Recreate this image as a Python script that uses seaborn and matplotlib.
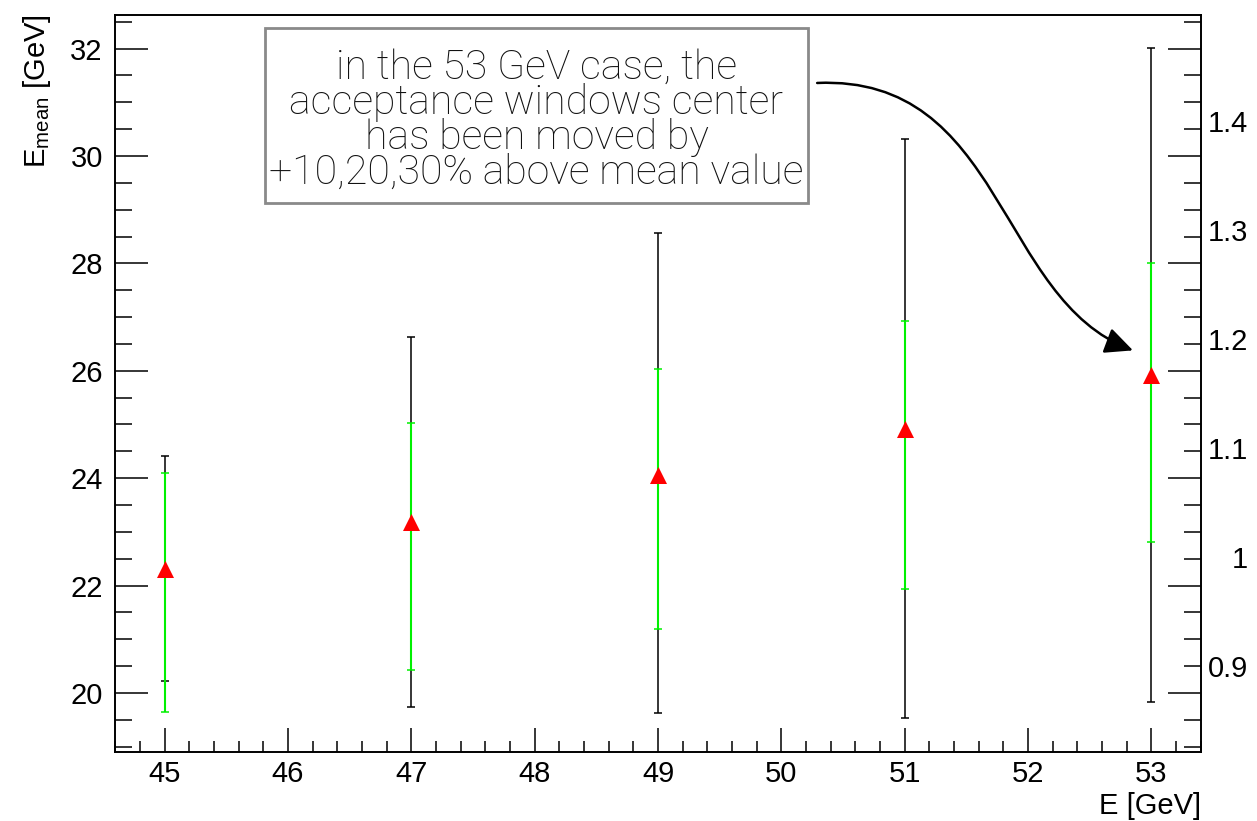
import matplotlib
matplotlib.use("Agg")
import matplotlib.pyplot as plt
import seaborn as sns
import pandas as pd
from matplotlib.patches import Rectangle, FancyArrowPatch
from matplotlib.path import Path
from matplotlib.ticker import MultipleLocator

# Beam energy points and mean reconstructed energy
energies = [45, 47, 49, 51, 53]
e_mean = [22.30, 23.19, 24.06, 24.91, 25.92]
# full spread (black) and acceptance window (green)
black_lo = [20.22, 19.73, 19.62, 19.53, 19.84]
black_hi = [24.42, 26.63, 28.57, 30.32, 32.01]
green_lo = [19.64, 20.42, 21.20, 21.94, 22.82]
green_hi = [24.10, 25.03, 26.03, 26.92, 28.00]
right_ticks = [0.9, 1.0, 1.1, 1.2, 1.3, 1.4]
right_labels = ["0.9", "1", "1.1", "1.2", "1.3", "1.4"]
note_lines = ["in the 53 GeV case, the",
              "acceptance windows center",
              "has been moved by",
              "+10,20,30% above mean value"]

df = pd.DataFrame({"E": energies, "Emean": e_mean,
                   "blo": black_lo, "bhi": black_hi,
                   "glo": green_lo, "ghi": green_hi})

sns.set_theme(style="white")
plt.rcParams["font.family"] = ["Liberation Sans", "DejaVu Sans"]
plt.rcParams["mathtext.fontset"] = "custom"
plt.rcParams["mathtext.rm"] = "Liberation Sans"
plt.rcParams["text.color"] = "black"
plt.rcParams["xtick.color"] = "black"
plt.rcParams["ytick.color"] = "black"

fig = plt.figure(figsize=(12.57, 8.21), dpi=100)
ax = fig.add_axes([0.0917, 0.084, 0.8636, 0.898])

ax.set_xlim(44.6, 53.4)
ax.set_ylim(18.9, 32.63)

# black error bars
ax.errorbar(df["E"], df["Emean"],
            yerr=[df["Emean"] - df["blo"], df["bhi"] - df["Emean"]],
            fmt="none", ecolor="black", elinewidth=1.1, capsize=3,
            capthick=1.1, zorder=2)
# green error bars
ax.errorbar(df["E"], df["Emean"],
            yerr=[df["Emean"] - df["glo"], df["ghi"] - df["Emean"]],
            fmt="none", ecolor="#00f000", elinewidth=1.5, capsize=3,
            capthick=1.1, zorder=3)
sns.scatterplot(data=df, x="E", y="Emean", marker="^", s=150,
                color="red", edgecolor="red", linewidth=0, ax=ax, zorder=4)

# secondary (ratio) axis on the right, labels only
ax2 = ax.twinx()
ax2.set_ylim(0.821, 1.497)
ax2.set_yticks(right_ticks)
ax2.set_yticklabels(right_labels)
ax2.tick_params(axis="y", length=0, labelsize=21, pad=34)
for lab in ax2.get_yticklabels():
    lab.set_horizontalalignment("right")
for sp in ax2.spines.values():
    sp.set_visible(False)
ax2.grid(False)

# ROOT-like axis frame with inward ticks
for sp in ax.spines.values():
    sp.set_linewidth(1.4)
    sp.set_color("black")
    sp.set_visible(True)
ax.grid(False)

ax.xaxis.set_major_locator(MultipleLocator(1))
ax.xaxis.set_minor_locator(MultipleLocator(0.2))
ax.yaxis.set_major_locator(MultipleLocator(2))
ax.yaxis.set_minor_locator(MultipleLocator(0.5))
ax.tick_params(axis="x", which="major", direction="in", length=17,
               width=1.1, labelsize=21, pad=6, bottom=True, top=False)
ax.tick_params(axis="x", which="minor", direction="in", length=8,
               width=1.1, bottom=True, top=False)
ax.tick_params(axis="y", which="major", direction="in", length=24,
               width=1.1, labelsize=21, pad=9, left=True, right=True,
               labelleft=True, labelright=False)
ax.tick_params(axis="y", which="minor", direction="in", length=12,
               width=1.1, left=True, right=True)
ax.set_xlabel("")
ax.set_ylabel("")

# axis titles
fig.text(37 / 1257, 1 - 14 / 821, r"E$_{\mathrm{mean}}$ [GeV]", rotation=90,
         ha="center", va="top", fontsize=21)
fig.text(1201 / 1257, 1 - 806 / 821, "E [GeV]", ha="right", va="center",
         fontsize=21)

# annotation box
bx0, bx1, by0, by1 = 0.1379, 0.6381, 0.7446, 0.982
ax.add_patch(Rectangle((bx0, by0), bx1 - bx0, by1 - by0,
                       transform=ax.transAxes, facecolor="white",
                       edgecolor="#8a8a8a", linewidth=2.0, zorder=5))
ax.text((bx0 + bx1) / 2, (by0 + by1) / 2 - 0.006, "\n".join(note_lines),
        transform=ax.transAxes, ha="center", va="center", fontsize=29.5,
        linespacing=0.88, family=["Roboto", "DejaVu Sans"],
        fontweight="light", color="#111111", zorder=6)

# curved arrow pointing to the 53 GeV point
verts = [(50.29, 31.36), (51.80, 31.51), (51.75, 27.33), (52.85, 26.38)]
path = Path(verts, [Path.MOVETO, Path.CURVE4, Path.CURVE4, Path.CURVE4])
arrow = FancyArrowPatch(path=path, arrowstyle="-|>,head_length=17,head_width=8",
                        color="black", linewidth=1.8, zorder=6,
                        mutation_scale=1)
ax.add_patch(arrow)

fig.savefig("out.png", dpi=100, facecolor="white")
